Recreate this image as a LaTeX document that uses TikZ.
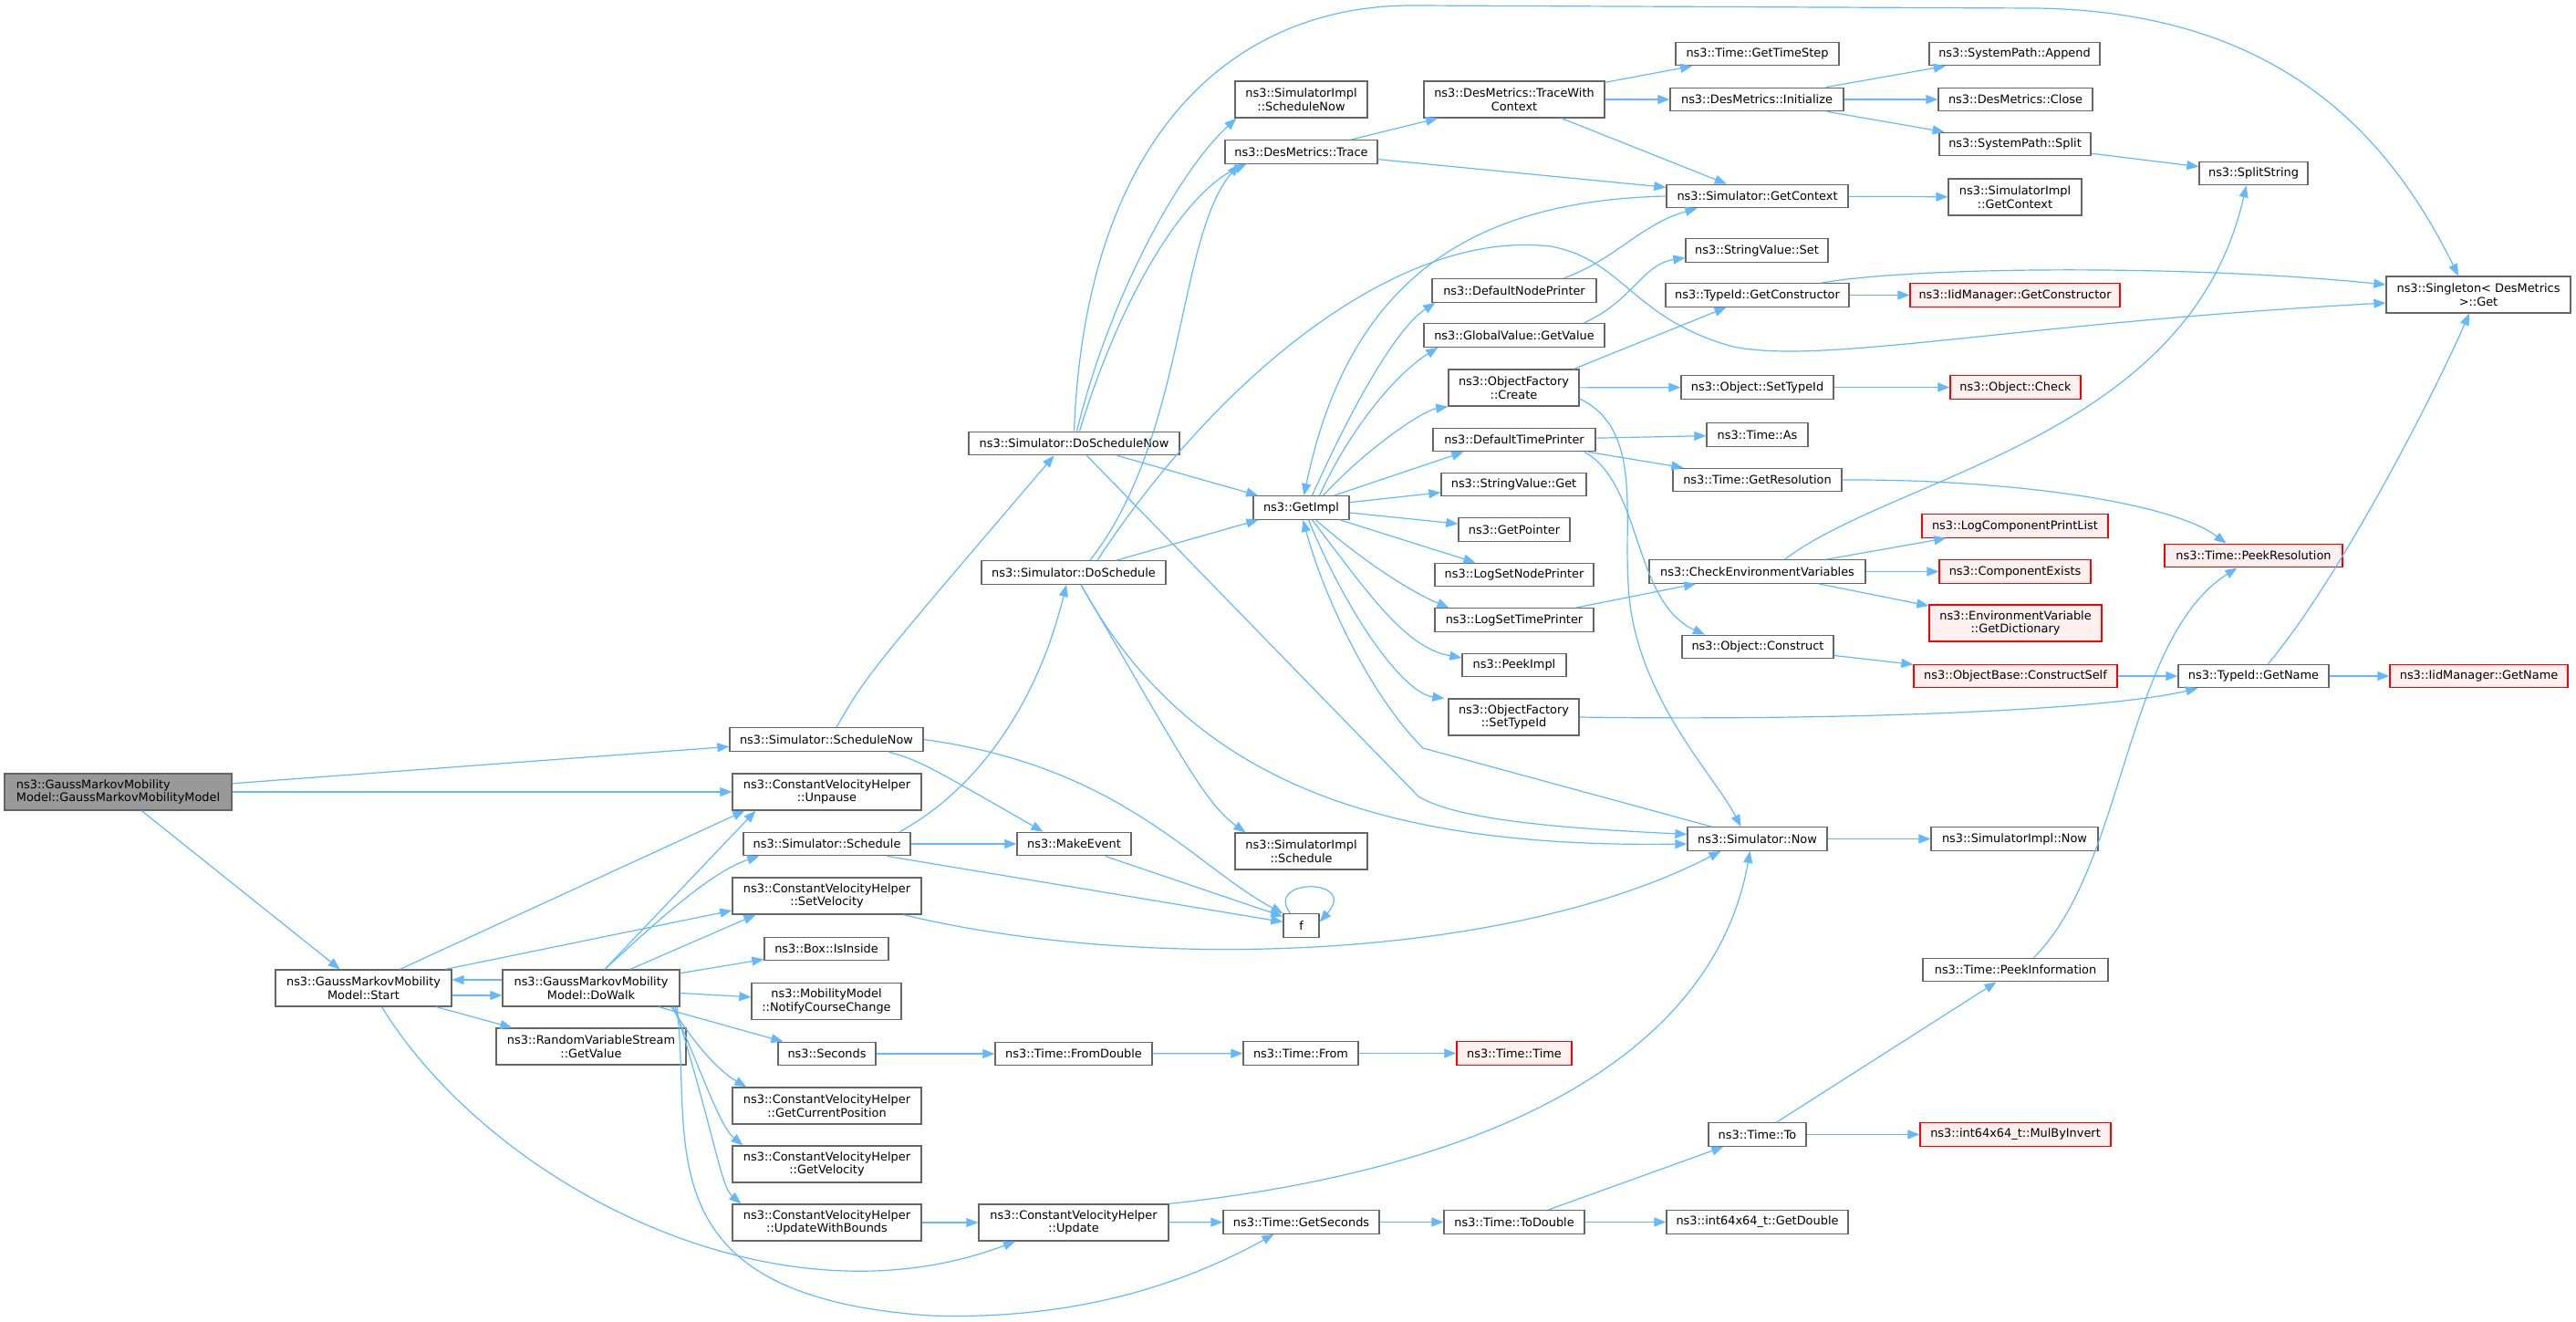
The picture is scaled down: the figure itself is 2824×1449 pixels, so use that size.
\documentclass[tikz,border=0pt]{standalone}
\usepackage{fontspec}
\setmainfont{DejaVu Sans}
\usetikzlibrary{arrows.meta}
\definecolor{edgeblue}{HTML}{63B8FF}
\definecolor{boxgray}{HTML}{666666}
\definecolor{rootfill}{HTML}{999999}
\definecolor{extfill}{HTML}{FFF0F0}
\newcommand\fnfont{\fontsize{6.45pt}{7.3pt}\selectfont}
\tikzset{
  fn/.style={draw=boxgray, fill=white, line width=0.65pt, inner sep=0pt,
    font=\fnfont, align=center},
  one/.style={fn, minimum height=12.75pt},
  two/.style={fn, minimum height=20pt},
  root/.style={fill=rootfill},
  ext/.style={draw=red, fill=extfill},
  call/.style={draw=edgeblue, line width=0.6pt, -{Triangle[length=6.5pt,width=5pt]}}
}
\begin{document}
\begin{tikzpicture}[x=0.5pt,y=-0.5pt]
   \useasboundingbox (0,0) rectangle (2824,1449);
   \node[two, root, align=left, minimum width=124.5pt] (main) at (129.5,868) {ns3::GaussMarkovMobility\\Model::GaussMarkovMobilityModel};
   \node[two, minimum width=96.5pt] (start) at (398.5,1083) {ns3::GaussMarkovMobility\\Model::Start};
   \node[two, minimum width=97pt] (dowalk) at (648,1083) {ns3::GaussMarkovMobility\\Model::DoWalk};
   \node[two, minimum width=104pt] (rvsget) at (648,1147) {ns3::RandomVariableStream\\::GetValue};
   \node[one, minimum width=106pt] (schednow) at (906,810.5) {ns3::Simulator::ScheduleNow};
   \node[two, minimum width=103.5pt] (unpause) at (906.5,868) {ns3::ConstantVelocityHelper\\::Unpause};
   \node[one, minimum width=91.5pt] (schedule) at (906.5,925) {ns3::Simulator::Schedule};
   \node[two, minimum width=103.5pt] (setvel) at (906.5,982) {ns3::ConstantVelocityHelper\\::SetVelocity};
   \node[one, minimum width=68pt] (isinside) at (906,1040) {ns3::Box::IsInside};
   \node[two, minimum width=82pt] (notify) at (906,1097.5) {ns3::MobilityModel\\::NotifyCourseChange};
   \node[one, minimum width=53.5pt] (seconds) at (906.5,1155) {ns3::Seconds};
   \node[two, minimum width=103.5pt] (curpos) at (906.5,1212) {ns3::ConstantVelocityHelper\\::GetCurrentPosition};
   \node[two, minimum width=103.5pt] (getvel) at (906.5,1276) {ns3::ConstantVelocityHelper\\::GetVelocity};
   \node[two, minimum width=103.5pt] (updbounds) at (906.5,1340) {ns3::ConstantVelocityHelper\\::UpdateWithBounds};
   \node[one, minimum width=115.5pt] (doschednow) at (1177.5,486) {ns3::Simulator::DoScheduleNow};
   \node[one, minimum width=101pt] (dosched) at (1177,627.5) {ns3::Simulator::DoSchedule};
   \node[one, minimum width=62.5pt] (makeevent) at (1177.5,925) {ns3::MakeEvent};
   \node[two, minimum width=104pt] (update) at (1177,1340) {ns3::ConstantVelocityHelper\\::Update};
   \node[one, minimum width=86pt] (fromdouble) at (1177,1155) {ns3::Time::FromDouble};
   \node[two, minimum width=72.5pt] (implschednow) at (1426.5,109) {ns3::SimulatorImpl\\::ScheduleNow};
   \node[one, minimum width=83.5pt] (trace) at (1426.5,166.5) {ns3::DesMetrics::Trace};
   \node[one, minimum width=52.5pt] (getimpl) at (1426.5,556.5) {ns3::GetImpl};
   \node[two, minimum width=72.5pt] (implsched) at (1426.5,933) {ns3::SimulatorImpl\\::Schedule};
   \node[one, minimum width=19.5pt] (f) at (1426.5,1014.5) {f};
   \node[one, minimum width=63pt] (from) at (1426,1154.5) {ns3::Time::From};
   \node[one, minimum width=85.5pt] (getseconds) at (1426.5,1339.5) {ns3::Time::GetSeconds};
   \node[two, minimum width=99pt] (tracectx) at (1660,109) {ns3::DesMetrics::TraceWith\\Context};
   \node[one, minimum width=90pt] (nodeprinter) at (1660,318.5) {ns3::DefaultNodePrinter};
   \node[one, minimum width=99pt] (globalget) at (1660,367.5) {ns3::GlobalValue::GetValue};
   \node[two, minimum width=71.5pt] (create) at (1659.5,425) {ns3::ObjectFactory\\::Create};
   \node[one, minimum width=89pt] (timeprinter) at (1660,482) {ns3::DefaultTimePrinter};
   \node[one, minimum width=79.5pt] (svget) at (1659.5,531) {ns3::StringValue::Get};
   \node[one, minimum width=61pt] (getpointer) at (1660,580.5) {ns3::GetPointer};
   \node[one, minimum width=87pt] (lognode) at (1660,630) {ns3::LogSetNodePrinter};
   \node[one, minimum width=87pt] (logtime) at (1660,679.5) {ns3::LogSetTimePrinter};
   \node[one, minimum width=57pt] (peekimpl) at (1660,729) {ns3::PeekImpl};
   \node[two, minimum width=71.5pt] (factsettype) at (1659.5,786) {ns3::ObjectFactory\\::SetTypeId};
   \node[one, ext, minimum width=63pt] (timetime) at (1660,1154.5) {ns3::Time::Time};
   \node[one, minimum width=77pt] (todouble) at (1660,1339.5) {ns3::Time::ToDouble};
   \node[one, minimum width=89.5pt] (timestep) at (1926.5,59) {ns3::Time::GetTimeStep};
   \node[one, minimum width=95pt] (initialize) at (1926,109) {ns3::DesMetrics::Initialize};
   \node[one, minimum width=99.5pt] (getcontext) at (1926.5,215) {ns3::Simulator::GetContext};
   \node[one, minimum width=78pt] (svset) at (1926,274.5) {ns3::StringValue::Set};
   \node[one, minimum width=100.5pt] (getctor) at (1926.5,323.5) {ns3::TypeId::GetConstructor};
   \node[one, minimum width=83.5pt] (objsettype) at (1926.5,424.5) {ns3::Object::SetTypeId};
   \node[one, minimum width=55.5pt] (timeas) at (1926.5,476.5) {ns3::Time::As};
   \node[one, minimum width=92.5pt] (getres) at (1926.5,526) {ns3::Time::GetResolution};
   \node[one, minimum width=118.5pt] (checkenv) at (1926.5,626.5) {ns3::CheckEnvironmentVariables};
   \node[one, minimum width=83pt] (construct) at (1927,709) {ns3::Object::Construct};
   \node[one, minimum width=76.5pt] (now) at (1926.5,919.5) {ns3::Simulator::Now};
   \node[one, minimum width=53.5pt] (timeto) at (1926.5,1243.5) {ns3::Time::To};
   \node[one, minimum width=99.5pt] (getdouble) at (1926.5,1339.5) {ns3::int64x64\_t::GetDouble};
   \node[one, minimum width=93.5pt] (append) at (2208.5,59) {ns3::SystemPath::Append};
   \node[one, minimum width=84.5pt] (close) at (2209.5,109) {ns3::DesMetrics::Close};
   \node[one, minimum width=83pt] (sysplit) at (2209,158) {ns3::SystemPath::Split};
   \node[two, minimum width=73pt] (implctx) at (2209,216) {ns3::SimulatorImpl\\::GetContext};
   \node[one, ext, minimum width=115pt] (iidctor) at (2209,323.5) {ns3::IidManager::GetConstructor};
   \node[one, ext, minimum width=71.5pt] (check) at (2209.5,424.5) {ns3::Object::Check};
   \node[one, ext, minimum width=102pt] (logcomp) at (2209,576.5) {ns3::LogComponentPrintList};
   \node[one, ext, minimum width=83pt] (compexists) at (2209,626.5) {ns3::ComponentExists};
   \node[two, ext, minimum width=94.5pt] (getdict) at (2209.5,683) {ns3::EnvironmentVariable\\::GetDictionary};
   \node[one, ext, minimum width=111.5pt] (constructself) at (2209.5,741) {ns3::ObjectBase::ConstructSelf};
   \node[one, minimum width=91.5pt] (implnow) at (2208.5,919.5) {ns3::SimulatorImpl::Now};
   \node[one, minimum width=101.5pt] (peekinfo) at (2209.5,1063) {ns3::Time::PeekInformation};
   \node[one, ext, minimum width=104.5pt] (mulbyinvert) at (2209.5,1243.5) {ns3::int64x64\_t::MulByInvert};
   \node[one, minimum width=59.5pt] (splitstring) at (2470.5,190) {ns3::SplitString};
   \node[one, ext, minimum width=97.5pt] (peekres) at (2470.5,609) {ns3::Time::PeekResolution};
   \node[one, minimum width=82.5pt] (getname) at (2470.5,741) {ns3::TypeId::GetName};
   \node[two, minimum width=101pt] (singleton) at (2717,323) {ns3::Singleton< DesMetrics\\>::Get};
   \node[one, ext, minimum width=97.5pt] (iidname) at (2717.5,741) {ns3::IidManager::GetName};

   \draw[call] (main) -- (schednow);
   \draw[call] (main) -- (unpause);
   \draw[call] (main) -- (start);
   \draw[call] ([yshift=-4pt]start.east) -- ([yshift=-4pt]dowalk.west);
   \draw[call] ([yshift=4.5pt]dowalk.west) -- ([yshift=4.5pt]start.east);
   \draw[call] ([xshift=40pt]start.south) -- ([xshift=9pt]rvsget.north west);
   \draw[call] ([xshift=20pt]start.north) -- ([xshift=7pt]unpause.south west);
   \draw[call] ([xshift=45pt]start.north) -- ([yshift=-8pt]setvel.west);
   \draw[call] ([xshift=10pt]start.south) .. controls (540,1300) and (850,1460) .. ([xshift=-32pt]update.south);
   \draw[call] ([xshift=7.5pt]dowalk.north) -- ([xshift=13pt]unpause.south west);
   \draw[call] ([xshift=7.5pt]dowalk.north) .. controls (720,1010) and (780,955) .. ([xshift=9pt]schedule.south west);
   \draw[call] ([xshift=21.5pt]dowalk.north) -- ([xshift=13pt]setvel.south west);
   \draw[call] (dowalk) -- (isinside);
   \draw[call] (dowalk) -- (notify);
   \draw[call] (dowalk) -- (seconds);
   \draw[call] ([xshift=44pt]dowalk.south) .. controls (765,1150) and (790,1175) .. ([xshift=8pt]curpos.north west);
   \draw[call] ([xshift=45pt]dowalk.south) .. controls (775,1190) and (790,1235) .. ([xshift=6pt]getvel.north west);
   \draw[call] ([xshift=46pt]dowalk.south) .. controls (785,1250) and (790,1300) .. ([xshift=5pt]updbounds.north west);
   \draw[call] ([xshift=47pt]dowalk.south) .. controls (760,1250) and (700,1420) .. (1020,1442)
      .. controls (1200,1448) and (1320,1395) .. ([xshift=-15pt]getseconds.south);
   \draw[call] ([xshift=5.5pt]schednow.north) .. controls (950,740) .. ([xshift=-11pt]doschednow.south);
   \draw[call] ([xshift=34pt]schednow.south) .. controls (1010,835) .. ([xshift=-17pt]makeevent.north);
   \draw[call] (schednow.east) .. controls (1230,840) and (1310,950) .. (f.north west);
   \draw[call] ([xshift=40pt]schedule.north) .. controls (1080,860) and (1140,760) .. ([xshift=-4pt]dosched.south);
   \draw[call] (schedule) -- (makeevent);
   \draw[call] ([xshift=33pt]schedule.south) -- ([yshift=2pt]f.west);
   \draw[call] ([xshift=17pt]makeevent.south) -- ([yshift=5pt]f.west);
   \draw[call] ([xshift=-6pt]f.north) .. controls (1385,962) and (1490,962) .. ([yshift=2pt]f.east);
   \draw[call] ([xshift=42pt]setvel.south) .. controls (1250,1065) and (1650,1055) .. ([xshift=-20pt]now.south);
   \draw[call] (update) -- (getseconds);
   \draw[call] (update.north east) .. controls (1650,1280) and (1880,1150) .. ([xshift=-4pt]now.south);
   \draw[call] (updbounds) -- (update);
   \draw[call] (seconds) -- (fromdouble);
   \draw[call] (fromdouble) -- (from);
   \draw[call] (from) -- (timetime);
   \draw[call] ([xshift=1.5pt]doschednow.north) .. controls (1215,330) and (1290,190) .. ([xshift=1pt]implschednow.south west);
   \draw[call] ([xshift=3pt]doschednow.north) .. controls (1230,320) and (1300,210) .. ([xshift=12pt]trace.south west);
   \draw[call] (doschednow.north) .. controls (1190,150) and (1350,5) .. (1550,6) -- (2230,9)
      .. controls (2500,12) and (2620,150) .. ([xshift=-11pt]singleton.north);
   \draw[call] (doschednow) -- (getimpl);
   \draw[call] ([xshift=7pt]doschednow.south) -- (1555,873) .. controls (1600,900) and (1720,908) .. ([yshift=2.5pt]now.west);
   \draw[call] ([xshift=9pt]dosched.north) .. controls (1300,480) and (1290,260) .. ([xshift=8pt]trace.south west);
   \draw[call] ([xshift=13pt]dosched.north) .. controls (1330,420) and (1530,250) .. (1700,270)
      .. controls (1780,285) and (1790,350) .. (1900,380) .. controls (2000,400) and (2200,355) .. ([yshift=-4.5pt]singleton.west);
   \draw[call] (dosched) -- (getimpl);
   \draw[call] ([xshift=4pt]dosched.south) .. controls (1290,820) and (1320,880) .. ([xshift=6pt]implsched.north west);
   \draw[call] ([xshift=4pt]dosched.south) .. controls (1300,850) and (1500,930) .. ([yshift=-2.75pt]now.west);
   \draw[call] (trace) -- (tracectx);
   \draw[call] (trace) -- (getcontext);
   \draw[call] (tracectx) -- (timestep);
   \draw[call] (tracectx) -- (initialize);
   \draw[call] (tracectx) -- (getcontext);
   \draw[call] (initialize) -- (append);
   \draw[call] (initialize) -- (close);
   \draw[call] (initialize) -- (sysplit);
   \draw[call] (sysplit) -- (splitstring);
   \draw[call] (getcontext) -- (implctx);
   \draw[call] (getcontext.west) .. controls (1620,220) and (1480,300) .. ([xshift=1.5pt]getimpl.north);
   \draw[call] ([xshift=6pt]getimpl.north) .. controls (1480,450) and (1530,360) .. ([xshift=2pt]nodeprinter.south west);
   \draw[call] ([xshift=10pt]getimpl.north) .. controls (1480,470) and (1530,410) .. ([xshift=8pt]globalget.south west);
   \draw[call] ([xshift=12pt]getimpl.north) .. controls (1500,490) and (1560,450) .. (create.south west);
   \draw[call] ([xshift=18pt]getimpl.north) -- ([xshift=17pt]timeprinter.south west);
   \draw[call] (getimpl) -- (svget);
   \draw[call] (getimpl) -- (getpointer);
   \draw[call] (getimpl) -- (lognode);
   \draw[call] ([xshift=8pt]getimpl.south) .. controls (1500,620) and (1550,650) .. ([xshift=8pt]logtime.north west);
   \draw[call] ([xshift=6pt]getimpl.south) .. controls (1500,650) and (1540,710) .. ([yshift=4pt]peekimpl.west);
   \draw[call] ([xshift=4pt]getimpl.south) .. controls (1480,680) and (1540,760) .. ([xshift=-2pt]factsettype.north west);
   \draw[call] ([xshift=27pt]nodeprinter.north) .. controls (1770,285) and (1800,245) .. ([xshift=-33pt]getcontext.south);
   \draw[call] ([xshift=38pt]globalget.north) .. controls (1790,330) and (1800,290) .. ([yshift=-4pt]svset.west);
   \draw[call] ([xshift=33pt]create.north) -- ([xshift=-17pt]getctor.south);
   \draw[call] (create) -- (objsettype);
   \draw[call] ([yshift=-6pt]create.east) .. controls (1800,470) and (1780,560) .. (1785,640)
      .. controls (1790,760) and (1880,850) .. ([xshift=-9pt]now.north);
   \draw[call] (timeprinter) -- (timeas);
   \draw[call] (timeprinter) -- (getres);
   \draw[call] ([xshift=38.5pt]timeprinter.south) .. controls (1800,530) and (1790,660) .. ([xshift=-29pt]construct.north);
   \draw[call] (logtime) -- (checkenv);
   \draw[call] (checkenv) -- (logcomp);
   \draw[call] (checkenv) -- (compexists);
   \draw[call] (checkenv) -- (getdict);
   \draw[call] ([xshift=15pt]checkenv.north) .. controls (2080,520) and (2400,480) .. ([xshift=-4pt]splitstring.south);
   \draw[call] (factsettype.east) .. controls (2000,790) and (2300,780) .. ([xshift=11pt]getname.south west);
   \draw[call] (objsettype) -- (check);
   \draw[call] (getctor) -- (iidctor);
   \draw[call] ([xshift=35pt]getctor.north) .. controls (2100,292) and (2400,290) .. ([yshift=5.5pt]singleton.west);
   \draw[call] (construct) -- (constructself);
   \draw[call] (constructself) -- (getname);
   \draw[call] (getname) -- (iidname);
   \draw[call] ([xshift=8pt]getname.north) .. controls (2560,640) and (2660,450) .. ([xshift=-5pt]singleton.south);
   \draw[call] (getres.east) .. controls (2200,525) and (2380,550) .. ([xshift=-15pt]peekres.north);
   \draw[call] ([xshift=10pt]peekinfo.north) .. controls (2330,950) and (2330,700) .. ([xshift=-9pt]peekres.south);
   \draw[call] (timeto) -- (peekinfo);
   \draw[call] (timeto) -- (mulbyinvert);
   \draw[call] (todouble) -- (timeto);
   \draw[call] (todouble) -- (getdouble);
   \draw[call] (getseconds) -- (todouble);
   \draw[call] (now) -- (implnow);
   \draw[call] ([xshift=-25pt]now.north) -- (1560,820) .. controls (1500,760) and (1450,650) .. ([xshift=1pt]getimpl.south);
\end{tikzpicture}
\end{document}
